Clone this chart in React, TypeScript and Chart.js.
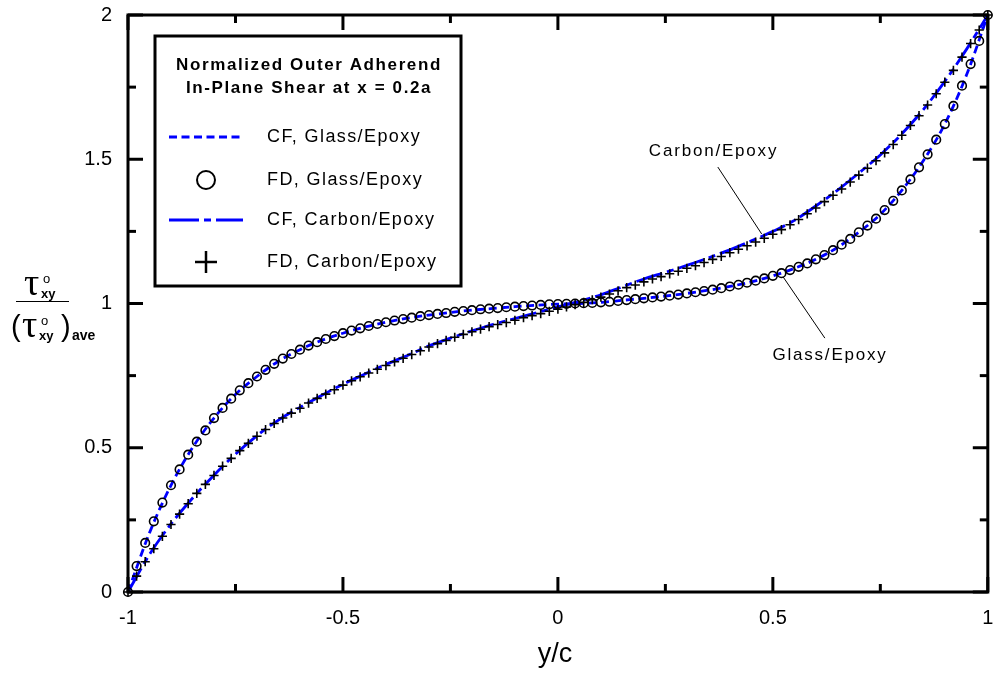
import React, { useEffect, useRef } from 'react';
import { Chart, registerables } from 'chart.js';

Chart.register(...registerables);

// x positions (y/c) of the FD points
const yOverC = [
  -1, -0.98, -0.96, -0.94, -0.92, -0.9, -0.88, -0.86, -0.84, -0.82,
  -0.8, -0.78, -0.76, -0.74, -0.72, -0.7, -0.68, -0.66, -0.64, -0.62,
  -0.6, -0.58, -0.56, -0.54, -0.52, -0.5, -0.48, -0.46, -0.44, -0.42,
  -0.4, -0.38, -0.36, -0.34, -0.32, -0.3, -0.28, -0.26, -0.24, -0.22,
  -0.2, -0.18, -0.16, -0.14, -0.12, -0.1, -0.08, -0.06, -0.04, -0.02,
  0,
  0.02, 0.04, 0.06, 0.08, 0.1, 0.12, 0.14, 0.16, 0.18, 0.2,
  0.22, 0.24, 0.26, 0.28, 0.3, 0.32, 0.34, 0.36, 0.38, 0.4,
  0.42, 0.44, 0.46, 0.48, 0.5, 0.52, 0.54, 0.56, 0.58, 0.6,
  0.62, 0.64, 0.66, 0.68, 0.7, 0.72, 0.74, 0.76, 0.78, 0.8,
  0.82, 0.84, 0.86, 0.88, 0.9, 0.92, 0.94, 0.96, 0.98, 1,
];

const glassFD = [
  0, 0.09, 0.17, 0.245, 0.31, 0.37, 0.425, 0.476, 0.521, 0.56,
  0.603, 0.638, 0.67, 0.699, 0.724, 0.747, 0.77, 0.791, 0.809, 0.825,
  0.84, 0.854, 0.866, 0.877, 0.887, 0.897, 0.906, 0.914, 0.922, 0.929,
  0.935, 0.941, 0.946, 0.951, 0.956, 0.96, 0.964, 0.967, 0.971, 0.974,
  0.977, 0.98, 0.982, 0.984, 0.987, 0.989, 0.991, 0.993, 0.995, 0.997,
  0.998,
  0.999, 1.0, 1.001, 1.002, 1.004, 1.006, 1.009, 1.012, 1.015, 1.018,
  1.021, 1.024, 1.027, 1.031, 1.035, 1.039, 1.043, 1.048, 1.053, 1.059,
  1.065, 1.072, 1.079, 1.087, 1.096, 1.105, 1.116, 1.127, 1.139, 1.153,
  1.168, 1.185, 1.204, 1.224, 1.247, 1.27, 1.294, 1.324, 1.356, 1.392,
  1.43, 1.472, 1.517, 1.568, 1.622, 1.685, 1.755, 1.83, 1.91, 2.0,
];

const carbonFD = [
  0, 0.055, 0.105, 0.15, 0.193, 0.234, 0.27, 0.306, 0.342, 0.373,
  0.404, 0.436, 0.463, 0.49, 0.515, 0.54, 0.563, 0.584, 0.603, 0.62,
  0.637, 0.655, 0.671, 0.686, 0.701, 0.717, 0.732, 0.746, 0.759, 0.772,
  0.785, 0.798, 0.81, 0.823, 0.836, 0.849, 0.861, 0.872, 0.883, 0.893,
  0.902, 0.911, 0.92, 0.927, 0.934, 0.942, 0.951, 0.958, 0.965, 0.973,
  0.98,
  0.988, 0.996, 1.004, 1.013, 1.022, 1.033, 1.044, 1.055, 1.064, 1.075,
  1.085, 1.093, 1.103, 1.112, 1.122, 1.131, 1.142, 1.153, 1.163, 1.176,
  1.188, 1.2, 1.213, 1.226, 1.24, 1.256, 1.273, 1.291, 1.311, 1.331,
  1.353, 1.375, 1.397, 1.421, 1.445, 1.469, 1.495, 1.522, 1.551, 1.583,
  1.617, 1.651, 1.688, 1.727, 1.767, 1.808, 1.854, 1.901, 1.948, 2.0,
];

// closed-form curves
const yOverCCF = [
  -1, -0.95, -0.9, -0.85, -0.8, -0.75, -0.7, -0.65, -0.6, -0.55,
  -0.5, -0.45, -0.4, -0.35, -0.3, -0.25, -0.2, -0.15, -0.1, -0.05,
  0,
  0.05, 0.1, 0.15, 0.2, 0.25, 0.3, 0.35, 0.4, 0.45, 0.5,
  0.55, 0.6, 0.65, 0.7, 0.75, 0.8, 0.85, 0.9, 0.95, 1,
];

const glassCF = [
  0, 0.205, 0.37, 0.5, 0.603, 0.685, 0.747, 0.8, 0.84, 0.872,
  0.897, 0.918, 0.935, 0.949, 0.96, 0.969, 0.977, 0.983, 0.989, 0.994,
  0.998,
  1.0, 1.004, 1.011, 1.018, 1.026, 1.035, 1.046, 1.059, 1.075, 1.096,
  1.122, 1.153, 1.194, 1.247, 1.309, 1.392, 1.495, 1.622, 1.79, 2.0,
];

const carbonCF = [
  0, 0.13, 0.236, 0.325, 0.405, 0.478, 0.542, 0.596, 0.64, 0.681,
  0.72, 0.755, 0.789, 0.82, 0.853, 0.88, 0.905, 0.928, 0.948, 0.968,
  0.988,
  1.008, 1.03, 1.058, 1.085, 1.108, 1.132, 1.158, 1.186, 1.217, 1.25,
  1.288, 1.338, 1.392, 1.452, 1.515, 1.588, 1.672, 1.77, 1.88, 2.0,
];

const xMajor = [-1, -0.5, 0, 0.5, 1];
const xTickLabels = ['-1', '-0.5', '0', '0.5', '1'];
const xMinor = [-0.75, -0.25, 0.25, 0.75];
const yMajor = [0, 0.5, 1, 1.5, 2];
const yTickLabels = ['0', '0.5', '1', '1.5', '2'];
const yMinor = [0.25, 0.75, 1.25, 1.75];

const legendTitle = ['Normalized Outer Adherend', 'In-Plane Shear at x = 0.2a'];
const legendLabels = ['CF, Glass/Epoxy', 'FD, Glass/Epoxy', 'CF, Carbon/Epoxy', 'FD, Carbon/Epoxy'];
const xAxisTitle = 'y/c';
const carbonNote = 'Carbon/Epoxy';
const glassNote = 'Glass/Epoxy';

const SANS = '"Liberation Sans", Arial, sans-serif';
const SERIF = '"Liberation Serif", "Times New Roman", serif';
const BLUE = '#0000ff';
const GLASS_DASH = [8, 4.5];
const CARBON_DASH = [27, 5, 7, 5];

const decorPlugin = {
  id: 'decor',
  afterDraw(chart: any) {
    const ctx: CanvasRenderingContext2D = chart.ctx;
    const { left, right, top, bottom } = chart.chartArea;
    const xs = chart.scales.x;
    const ys = chart.scales.y;
    const line = (x1: number, y1: number, x2: number, y2: number) => {
      ctx.beginPath();
      ctx.moveTo(x1, y1);
      ctx.lineTo(x2, y2);
      ctx.stroke();
    };
    ctx.save();
    ctx.strokeStyle = '#000';
    ctx.fillStyle = '#000';
    ctx.setLineDash([]);

    // frame
    ctx.lineWidth = 3;
    ctx.strokeRect(left, top, right - left, bottom - top);

    // inward ticks on all sides
    xMajor.forEach((v) => {
      const p = xs.getPixelForValue(v);
      line(p, bottom, p, bottom - 15);
      line(p, top, p, top + 15);
    });
    xMinor.forEach((v) => {
      const p = xs.getPixelForValue(v);
      line(p, bottom, p, bottom - 8);
      line(p, top, p, top + 8);
    });
    yMajor.forEach((v) => {
      const p = ys.getPixelForValue(v);
      line(left, p, left + 15, p);
      line(right, p, right - 15, p);
    });
    yMinor.forEach((v) => {
      const p = ys.getPixelForValue(v);
      line(left, p, left + 8, p);
      line(right, p, right - 8, p);
    });

    // tick labels
    ctx.font = `20px ${SANS}`;
    ctx.textBaseline = 'middle';
    ctx.textAlign = 'center';
    xMajor.forEach((v, i) => {
      ctx.fillText(xTickLabels[i], xs.getPixelForValue(v), bottom + 26);
    });
    ctx.textAlign = 'right';
    yMajor.forEach((v, i) => {
      ctx.fillText(yTickLabels[i], left - 16, ys.getPixelForValue(v));
    });

    // x-axis title
    ctx.font = `27px ${SANS}`;
    ctx.textAlign = 'center';
    ctx.fillText(xAxisTitle, (left + right) / 2 - 3, bottom + 63);

    // y-axis title (fraction)
    ctx.textBaseline = 'alphabetic';
    ctx.textAlign = 'left';
    ctx.font = `38px ${SERIF}`;
    ctx.fillText('\u03c4', 24, 295);
    ctx.fillText('\u03c4', 22, 337);
    ctx.font = `13px ${SANS}`;
    ctx.fillText('o', 43, 283);
    ctx.fillText('o', 41, 325);
    ctx.font = `bold 13px ${SANS}`;
    ctx.fillText('xy', 41, 298);
    ctx.fillText('xy', 39, 340);
    ctx.font = `bold 14px ${SANS}`;
    ctx.fillText('ave', 72, 340);
    ctx.font = `29px ${SANS}`;
    ctx.fillText('(', 11, 336);
    ctx.fillText(')', 61, 336);
    ctx.lineWidth = 1.2;
    line(16, 301.5, 69, 301.5);

    // annotations
    (ctx as any).letterSpacing = '1.8px';
    ctx.font = `17px ${SANS}`;
    ctx.textAlign = 'center';
    ctx.textBaseline = 'middle';
    ctx.lineWidth = 1;
    ctx.fillText(carbonNote, xs.getPixelForValue(0.362), ys.getPixelForValue(1.526));
    line(xs.getPixelForValue(0.372), ys.getPixelForValue(1.473), xs.getPixelForValue(0.474), ys.getPixelForValue(1.241));
    ctx.fillText(glassNote, xs.getPixelForValue(0.633), ys.getPixelForValue(0.822));
    line(xs.getPixelForValue(0.524), ys.getPixelForValue(1.092), xs.getPixelForValue(0.621), ys.getPixelForValue(0.88));

    // legend box
    const bx = 155, by = 36, bw = 306, bh = 250;
    ctx.fillStyle = '#fff';
    ctx.fillRect(bx, by, bw, bh);
    ctx.fillStyle = '#000';
    ctx.lineWidth = 3;
    ctx.strokeRect(bx, by, bw, bh);

    ctx.font = `bold 17px ${SANS}`;
    (ctx as any).letterSpacing = '1.6px';
    ctx.textAlign = 'center';
    ctx.fillText(legendTitle[0], bx + bw / 2 + 1, 65);
    ctx.fillText(legendTitle[1], bx + bw / 2 + 1, 88);

    const rows = [137, 180, 220, 262];
    ctx.font = `18px ${SANS}`;
    (ctx as any).letterSpacing = '1.4px';
    ctx.textAlign = 'left';
    legendLabels.forEach((t, i) => ctx.fillText(t, 267, rows[i]));
    (ctx as any).letterSpacing = '0px';

    // legend samples
    ctx.strokeStyle = BLUE;
    ctx.lineWidth = 2.8;
    ctx.setLineDash(GLASS_DASH);
    line(169, rows[0], 243, rows[0]);
    ctx.setLineDash([30, 5, 7, 5]);
    line(169, rows[2], 243, rows[2]);
    ctx.setLineDash([]);
    ctx.strokeStyle = '#000';
    ctx.lineWidth = 2;
    ctx.beginPath();
    ctx.arc(206, rows[1], 9, 0, Math.PI * 2);
    ctx.stroke();
    ctx.lineWidth = 2.5;
    line(195, rows[3], 217, rows[3]);
    line(206, rows[3] - 11, 206, rows[3] + 11);

    ctx.restore();
  },
};

export default function App() {
  const canvasRef = useRef<HTMLCanvasElement | null>(null);

  useEffect(() => {
    const canvas = canvasRef.current;
    if (!canvas) return;
    const pts = (xv: number[], yv: number[]) => xv.map((x, i) => ({ x, y: yv[i] }));
    const chart = new Chart(canvas, {
      type: 'scatter',
      data: {
        datasets: [
          {
            label: 'FD, Glass/Epoxy',
            data: pts(yOverC, glassFD),
            showLine: false,
            pointStyle: 'circle',
            pointRadius: 4.3,
            pointBorderWidth: 1.6,
            borderColor: '#000',
            backgroundColor: 'rgba(0,0,0,0)',
            clip: false,
            order: 0,
          },
          {
            label: 'FD, Carbon/Epoxy',
            data: pts(yOverC, carbonFD),
            showLine: false,
            pointStyle: 'cross',
            pointRadius: 4.6,
            pointBorderWidth: 1.6,
            borderColor: '#000',
            backgroundColor: '#000',
            clip: false,
            order: 1,
          },
          {
            label: 'CF, Glass/Epoxy',
            data: pts(yOverCCF, glassCF),
            showLine: true,
            pointRadius: 0,
            borderColor: BLUE,
            borderWidth: 2.8,
            borderDash: GLASS_DASH,
            cubicInterpolationMode: 'monotone',
            order: 2,
          },
          {
            label: 'CF, Carbon/Epoxy',
            data: pts(yOverCCF, carbonCF),
            showLine: true,
            pointRadius: 0,
            borderColor: BLUE,
            borderWidth: 2.8,
            borderDash: CARBON_DASH,
            cubicInterpolationMode: 'monotone',
            order: 3,
          },
        ] as any,
      },
      options: {
        animation: false,
        responsive: false,
        events: [],
        layout: { padding: { left: 128, right: 4, top: 15, bottom: 83 } },
        plugins: { legend: { display: false }, tooltip: { enabled: false }, title: { display: false } },
        scales: {
          x: { type: 'linear', min: -1, max: 1, display: false },
          y: { type: 'linear', min: 0, max: 2, display: false },
        },
      },
      plugins: [decorPlugin],
    });
    return () => chart.destroy();
  }, []);

  return (
    <div style={{ position: 'fixed', left: 0, top: 0, width: 994, height: 675, background: '#fff' }}>
      <canvas ref={canvasRef} width={994} height={675} style={{ display: 'block' }} />
    </div>
  );
}
